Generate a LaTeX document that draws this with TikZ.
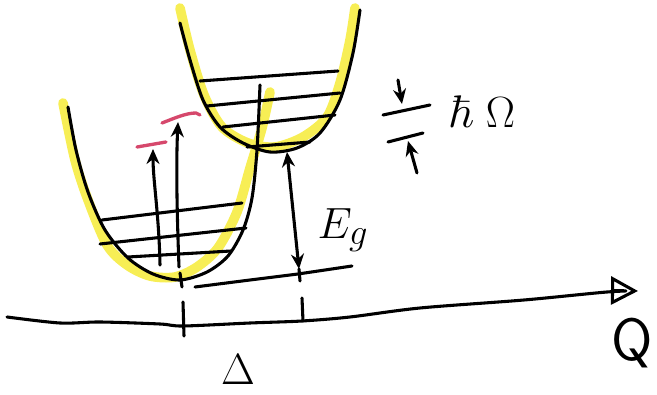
\documentclass[tikz,border=0pt]{standalone}
\usepackage{amsmath,amssymb}
\usepackage{tikz}
\usetikzlibrary{arrows.meta,positioning,calc}

\definecolor{gelbmarker}{RGB}{247,238,85}
\definecolor{pinkstift}{RGB}{214,72,108}

\begin{document}
\begin{tikzpicture}[x=0.02cm,y=-0.02cm,line cap=round,line join=round,
    stift/.style={line width=1.75pt,black},
    leucht/.style={line width=5.5pt,gelbmarker},
    rotstift/.style={line width=1.9pt,pinkstift},
    pfeil/.style={stift,-{Stealth[length=3mm,width=2.6mm]}}]
  \useasboundingbox (0,0) rectangle (657,395);

  % Leuchtmarker unter den Parabeln
  \draw[leucht] plot[smooth] coordinates {(63,103) (75,160) (88,200) (107,245) (127,265) (150,276) (175,277) (197,267) (218,248) (237,212) (250,168) (262,128) (270,92)};
  \draw[leucht] plot[smooth] coordinates {(180,8) (190,50) (204,95) (222,127) (248,143) (275,147) (303,137) (327,117) (340,83) (350,40) (355,8)};

  % Grundzustand
  \draw[stift] plot[smooth] coordinates {(68,107) (76,150) (88,192) (105,230) (128,258) (153,274) (180,280) (207,272) (228,256) (243,230) (252,198) (257,150) (260,85)};
  \draw[stift] (102,220) -- (242,203);
  \draw[stift] (100,244) -- (246,228);
  \draw[stift] (128,257) -- (231,251);

  % angeregter Zustand
  \draw[stift] plot[smooth] coordinates {(180,23) (190,60) (203,100) (220,127) (243,143) (270,152) (297,148) (320,133) (340,100) (353,53) (360,10)};
  \draw[stift] (200,81) -- (338,71);
  \draw[stift] (207,106) -- (340,93);
  \draw[stift] (223,127) -- (335,115);
  \draw[stift] (247,147) -- (310,142);

  % Absorption
  \coordinate (a1u) at (160,265);
  \coordinate (a1o) at (153,149);
  \coordinate (a2u) at (179,267);
  \coordinate (a2o) at (178,122);
  \draw[pfeil] (a1u) .. controls (159,215) and (153,180) .. (a1o);
  \draw[pfeil] (a2u) .. controls (177,215) and (176,165) .. (a2o);
  \draw[rotstift] (137,147) -- (166,142);
  \draw[rotstift] (162,123) .. controls (175,118) and (186,113) .. (196,113) -- (200,115);
  \draw[stift] (180,273) -- (182,287);

  % Energieluecke
  \coordinate (eo) at (287,152);
  \coordinate (eu) at (299,269);
  \coordinate (ee) at (300,281);
  \draw[stift,{Stealth[length=3mm,width=2.6mm]}-{Stealth[length=3mm,width=2.6mm]}] (eo) -- (eu);
  \draw[stift] (eu) -- (ee);
  \draw[stift] (195,287) -- (250,280) -- (298,274) -- (352,266);
  \node (eg) at (343,230) {\fontsize{30}{30}\selectfont$E_g$};

  % Phononenenergie
  \coordinate (ho1) at (398,80);
  \coordinate (hu1) at (402,104);
  \coordinate (ho2) at (417,173);
  \coordinate (hu2) at (408,141);
  \draw[stift] (383,115) -- (430,105);
  \draw[stift] (388,142) -- (423,133);
  \draw[pfeil] (ho1) -- (hu1);
  \draw[pfeil] (ho2) -- (hu2);
  \node (hw) at (482,112) {\fontsize{26}{26}\selectfont$\hbar\;\Omega$};

  % Konfigurationskoordinate
  \draw[stift,-{Triangle[open,length=5.4mm,width=5.6mm,line width=1.75pt]}] plot[smooth] coordinates {(7,317) (60,323) (100,322) (160,324) (183,326) (250,323) (302,321) (350,317) (420,308) (524,300) (607,292) (638,291)};
  \draw[stift] (183,302) -- (184,336);
  \draw[stift] (302,298) -- (303,321);
  \node (q) at (632,343) {\fontsize{34}{34}\selectfont\sffamily Q};
  \node (d) at (238,370) {\fontsize{30}{30}\selectfont$\Delta$};
\end{tikzpicture}
\end{document}
